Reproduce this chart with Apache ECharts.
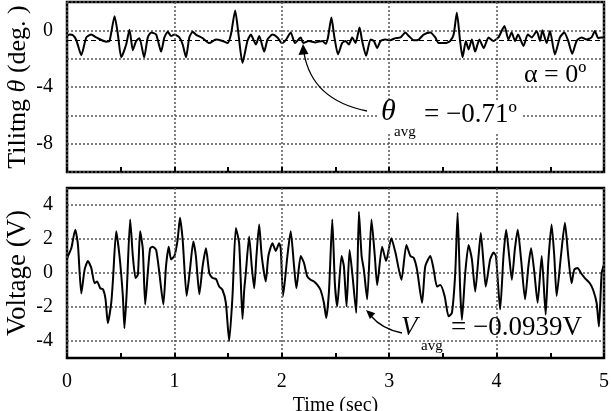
<!DOCTYPE html>
<html>
<head>
<meta charset="utf-8">
<script src="https://cdn.jsdelivr.net/npm/echarts@6/dist/echarts.min.js"></script>
<style>
  html, body { margin: 0; padding: 0; background: #fff; }
  #chart { width: 611px; height: 411px; }
</style>
</head>
<body>
<div id="chart"></div>
<script>
var serif = '"Liberation Serif", "Times New Roman", serif';

// tilting angle (deg) vs time (sec)
var tiltPoints = [
  [0, -0.4], [0.025, -0.3], [0.056, -0.35], [0.087, -0.7], [0.133, -1.75], [0.18, -0.5],
  [0.226, -0.3], [0.272, -0.5], [0.365, -0.8], [0.396, -0.75], [0.443, 1.0], [0.474, -0.3],
  [0.505, -1.9], [0.551, -1.0], [0.582, 0.05], [0.613, -1.4], [0.644, -0.75], [0.675, -0.55],
  [0.718, -1.9], [0.752, -0.5], [0.783, -0.15], [0.83, -0.3], [0.876, -1.5], [0.907, -0.5],
  [0.938, -0.1], [0.969, -0.4], [1.0, -0.3], [1.046, -0.5], [1.077, -1.0], [1.108, -1.9],
  [1.139, -0.5], [1.17, -0.1], [1.2, -0.3], [1.263, -0.55], [1.325, -0.9], [1.386, -0.65],
  [1.448, -0.75], [1.495, -0.9], [1.526, -0.3], [1.566, 1.4], [1.597, -0.3], [1.634, -2.3],
  [1.68, -0.75], [1.712, -0.3], [1.758, -1.0], [1.79, -0.4], [1.836, -1.5], [1.867, -0.65],
  [1.913, -0.3], [1.96, -0.5], [2.0, -0.9], [2.04, -0.65], [2.083, -0.15], [2.123, -0.9],
  [2.176, -0.5], [2.2, -0.9], [2.253, -0.75], [2.315, -0.85], [2.377, -0.75], [2.408, -0.95],
  [2.43, -0.5], [2.462, 0.9], [2.49, -0.5], [2.523, -1.7], [2.562, -0.9], [2.593, -0.75],
  [2.624, -1.0], [2.655, -0.5], [2.686, -0.9], [2.724, 0.2], [2.748, -0.75], [2.785, -1.8],
  [2.826, -0.65], [2.857, -0.75], [2.888, -1.25], [2.92, -0.75], [2.965, -0.65], [3.01, -0.7],
  [3.058, -0.55], [3.105, -0.5], [3.151, -0.15], [3.182, -0.4], [3.228, -0.7], [3.275, -0.65],
  [3.321, -0.3], [3.383, -0.15], [3.429, -0.5], [3.46, -0.9], [3.522, -0.9], [3.568, -0.75],
  [3.6, -0.3], [3.63, 1.25], [3.66, -0.75], [3.683, -1.9], [3.714, -0.75], [3.739, -1.35],
  [3.77, -0.65], [3.8, -1.5], [3.84, -0.65], [3.88, -1.25], [3.925, -0.5], [3.97, -0.75],
  [4.017, -0.5], [4.073, 0.3], [4.11, -0.65], [4.14, -0.15], [4.172, -0.75], [4.2, -0.3],
  [4.25, -1.1], [4.29, -0.3], [4.327, -0.5], [4.373, -0.05], [4.405, -0.75], [4.426, 0.0],
  [4.466, -0.9], [4.497, -0.05], [4.543, -1.7], [4.59, -0.5], [4.63, -0.15], [4.667, -0.75],
  [4.704, -1.65], [4.745, -0.75], [4.79, -0.5], [4.838, -0.65], [4.884, -0.5], [4.915, -0.05],
  [4.946, -0.55], [4.977, -0.5], [5.0, -0.5]
];

// voltage (V) vs time (sec)
var voltPoints = [
  [0, 0.8], [0.009, 1.0], [0.04, 1.45], [0.077, 2.55], [0.102, 1.65], [0.133, -1.2],
  [0.164, 0.2], [0.195, 0.7], [0.226, 0.3], [0.257, -0.6], [0.28, -0.5], [0.31, -0.9],
  [0.335, -0.95], [0.359, -1.55], [0.38, -2.95], [0.412, -1.75], [0.428, -0.4], [0.458, 2.45],
  [0.489, 1.0], [0.52, -1.35], [0.535, -3.25], [0.557, -1.0], [0.588, 3.15], [0.613, 1.0],
  [0.638, -0.3], [0.66, -0.1], [0.681, 2.45], [0.706, 1.4], [0.728, -1.85], [0.752, 0.0],
  [0.774, 1.45], [0.798, 1.55], [0.83, 1.35], [0.86, 0.0], [0.897, -1.85], [0.922, 0.4],
  [0.947, 1.55], [0.969, 0.8], [1.0, 1.0], [1.03, 1.95], [1.052, 3.25], [1.077, 1.95],
  [1.114, -1.35], [1.145, 0.2], [1.176, 1.85], [1.2, 1.0], [1.232, -1.25], [1.263, 0.4],
  [1.294, 1.45], [1.325, 0.0], [1.355, -0.3], [1.387, -0.35], [1.417, -0.8], [1.448, -1.0],
  [1.479, -1.75], [1.51, -4.0], [1.541, -1.35], [1.572, 2.65], [1.603, 1.75], [1.634, -2.7],
  [1.65, -1.0], [1.665, 0.0], [1.696, 2.15], [1.72, 0.4], [1.743, -0.9], [1.764, 1.0],
  [1.789, 2.85], [1.813, 1.0], [1.851, -0.5], [1.875, 1.0], [1.913, 1.75], [1.944, 1.3],
  [1.975, 1.75], [1.99, 1.45], [2.012, -1.35], [2.052, 1.0], [2.083, 2.45], [2.114, 0.4],
  [2.136, -0.9], [2.176, 1.0], [2.206, 0.6], [2.237, -0.2], [2.268, -0.4], [2.3, -0.5],
  [2.331, -0.7], [2.361, -1.0], [2.392, -1.75], [2.414, -2.65], [2.44, -1.0], [2.47, 3.15],
  [2.494, -0.6], [2.516, -1.95], [2.556, 1.0], [2.578, 0.4], [2.603, -1.95], [2.631, 1.35],
  [2.656, 0.0], [2.693, -2.35], [2.718, 3.6], [2.743, 1.0], [2.764, 0.2], [2.795, -1.55],
  [2.835, 3.15], [2.866, 1.0], [2.888, -0.7], [2.934, 1.55], [2.971, 0.7], [3.02, 2.05],
  [3.058, 1.2], [3.114, -0.4], [3.16, 1.65], [3.197, 1.0], [3.228, 0.9], [3.259, 0.2],
  [3.306, -1.75], [3.336, 0.4], [3.383, 1.0], [3.414, 0.2], [3.445, -0.8], [3.476, -0.7],
  [3.516, -1.35], [3.553, -2.55], [3.584, -2.35], [3.615, 0.0], [3.637, 3.55], [3.661, -1.0],
  [3.677, -2.75], [3.708, 0.0], [3.739, 1.65], [3.77, 0.8], [3.801, -1.1], [3.832, 1.0],
  [3.853, 2.35], [3.878, 0.6], [3.899, -0.8], [3.94, 0.8], [3.972, 1.2], [3.994, 1.0],
  [4.033, -2.15], [4.064, 1.0], [4.089, 2.55], [4.117, 1.0], [4.142, -0.4], [4.17, 1.4],
  [4.197, 2.55], [4.228, 0.8], [4.265, -1.55], [4.296, 0.4], [4.321, 1.45], [4.352, 0.0],
  [4.382, -1.75], [4.42, 1.0], [4.457, -2.45], [4.481, 0.6], [4.512, 2.85], [4.537, 1.0],
  [4.559, -1.35], [4.599, 1.0], [4.636, 2.95], [4.667, 1.0], [4.698, -0.6], [4.723, 0.2],
  [4.754, 0.3], [4.785, 0.0], [4.822, -0.3], [4.868, -0.6], [4.899, -1.0], [4.931, -1.75],
  [4.953, -3.15], [4.978, 0.0], [5.0, 0.5]
];

var tiltAvg = -0.71;
var voltGrid = [4, 2, 0, -2, -4];
var tiltLabels = [0, -4, -8];

var chart = echarts.init(document.getElementById('chart'));

var dotted = { color: '#555', width: 1.5, type: [2, 2] };

function xAxisFor(gridIndex, showLabels) {
  return {
    gridIndex: gridIndex,
    type: 'value',
    position: 'bottom',
    min: 0, max: 5, interval: 1,
    axisLine: { show: false, onZero: false },
    axisTick: { show: true, inside: true, length: 5, lineStyle: { color: '#000', width: 2 } },
    minorTick: { show: true, splitNumber: 2, length: 5, lineStyle: { color: '#000', width: 2 } },
    splitLine: { show: true, lineStyle: dotted },
    axisLabel: { show: showLabels, color: '#000', fontFamily: serif, fontSize: 20, margin: 14 },
    name: showLabels ? 'Time (sec)' : '',
    nameLocation: 'middle',
    nameGap: 38,
    nameTextStyle: { color: '#000', fontFamily: serif, fontSize: 20 },
    z: 5
  };
}

var option = {
  backgroundColor: '#fff',
  animation: false,
  grid: [
    { left: 67, right: 7, top: 2, height: 170, outerBoundsMode: 'none', show: true, borderColor: '#000', borderWidth: 2.5, backgroundColor: '#fff' },
    { left: 67, right: 7, top: 188, height: 170, outerBoundsMode: 'none', show: true, borderColor: '#000', borderWidth: 2.5, backgroundColor: '#fff' }
  ],
  xAxis: [xAxisFor(0, false), xAxisFor(1, true)],
  yAxis: [{
    gridIndex: 0,
    type: 'value',
    min: -10, max: 2, interval: 2,
    axisLine: { show: false, onZero: false },
    axisTick: { show: false },
    splitLine: { show: true, lineStyle: dotted },
    axisLabel: {
      color: '#000', fontFamily: serif, fontSize: 20, margin: 14,
      formatter: function (v) { return tiltLabels.indexOf(v) >= 0 ? String(v) : ''; }
    },
    name: 'Tilitng {i|θ} (deg. )',
    nameLocation: 'middle',
    nameMoveOverlap: false,
    nameGap: 36,
    nameTextStyle: {
      color: '#000', fontFamily: serif, fontSize: 26,
      rich: { i: { fontFamily: serif, fontSize: 26, fontStyle: 'italic', color: '#000' } }
    }
  }, {
    gridIndex: 1,
    type: 'value',
    min: -5, max: 5, interval: 1,
    axisLine: { show: false, onZero: false },
    axisTick: { show: false },
    splitLine: { show: false },
    axisLabel: {
      color: '#000', fontFamily: serif, fontSize: 20, margin: 14,
      formatter: function (v) { return voltGrid.indexOf(v) >= 0 ? String(v) : ''; }
    },
    name: 'Voltage (V)',
    nameLocation: 'middle',
    nameMoveOverlap: false,
    nameGap: 36,
    nameTextStyle: { color: '#000', fontFamily: serif, fontSize: 27 }
  }],
  series: [{
    type: 'line',
    xAxisIndex: 0, yAxisIndex: 0,
    data: tiltPoints,
    showSymbol: false,
    smooth: 0.2,
    lineStyle: { color: '#000', width: 2 },
    markLine: {
      silent: true, symbol: 'none', label: { show: false },
      lineStyle: { color: '#000', width: 1.2, type: [5, 3] },
      data: [{ yAxis: tiltAvg }]
    },
    z: 3
  }, {
    type: 'line',
    xAxisIndex: 1, yAxisIndex: 1,
    data: voltPoints,
    showSymbol: false,
    smooth: 0.2,
    lineStyle: { color: '#000', width: 2 },
    markLine: {
      silent: true, symbol: 'none', label: { show: false },
      lineStyle: dotted,
      data: voltGrid.map(function (v) { return { yAxis: v }; }),
      z: 1
    },
    z: 3
  }],
  graphic: [
    // alpha label box
    { type: 'rect', shape: { x: 521, y: 60, width: 74, height: 25 }, style: { fill: '#fff' }, z: 10 },
    { type: 'text', x: 524, y: 75, style: { text: 'α = 0º', fill: '#000', font: '26px ' + serif, verticalAlign: 'middle' }, z: 11 },
    // theta avg label
    { type: 'rect', shape: { x: 377, y: 101, width: 146, height: 31 }, style: { fill: '#fff' }, z: 10 },
    { type: 'text', x: 381, y: 127, style: { text: 'θ', fill: '#000', font: 'italic 30px ' + serif, verticalAlign: 'bottom' }, z: 11 },
    { type: 'text', x: 394, y: 140, style: { text: 'avg', fill: '#000', font: '15px ' + serif, verticalAlign: 'bottom' }, z: 11 },
    { type: 'text', x: 424, y: 128, style: { text: '= −0.71º', fill: '#000', font: '27px ' + serif, verticalAlign: 'bottom' }, z: 11 },
    { type: 'bezierCurve', shape: { x1: 367, y1: 111, cpx1: 312, cpy1: 100, x2: 304, y2: 53 }, style: { stroke: '#000', lineWidth: 1.3, fill: null }, z: 11 },
    { type: 'polygon', shape: { points: [[303, 44], [298.5, 55], [308.5, 54]] }, style: { fill: '#000' }, z: 11 },
    // V avg label
    { type: 'text', x: 401, y: 341, style: { text: 'V', fill: '#000', font: 'italic 27px ' + serif, verticalAlign: 'bottom' }, z: 11 },
    { type: 'text', x: 421, y: 354, style: { text: 'avg', fill: '#000', font: '15px ' + serif, verticalAlign: 'bottom' }, z: 11 },
    { type: 'text', x: 451, y: 341, style: { text: '= −0.0939V', fill: '#000', font: '27px ' + serif, verticalAlign: 'bottom' }, z: 11 },
    { type: 'bezierCurve', shape: { x1: 402, y1: 333, cpx1: 382, cpy1: 329, x2: 371, y2: 316 }, style: { stroke: '#000', lineWidth: 1.3, fill: null }, z: 11 },
    { type: 'polygon', shape: { points: [[366, 310], [375.3, 313.2], [369.9, 319.0]] }, style: { fill: '#000' }, z: 11 }
  ]
};

chart.setOption(option);
window.onresize = function () { chart.resize(); };
</script>
</body>
</html>
